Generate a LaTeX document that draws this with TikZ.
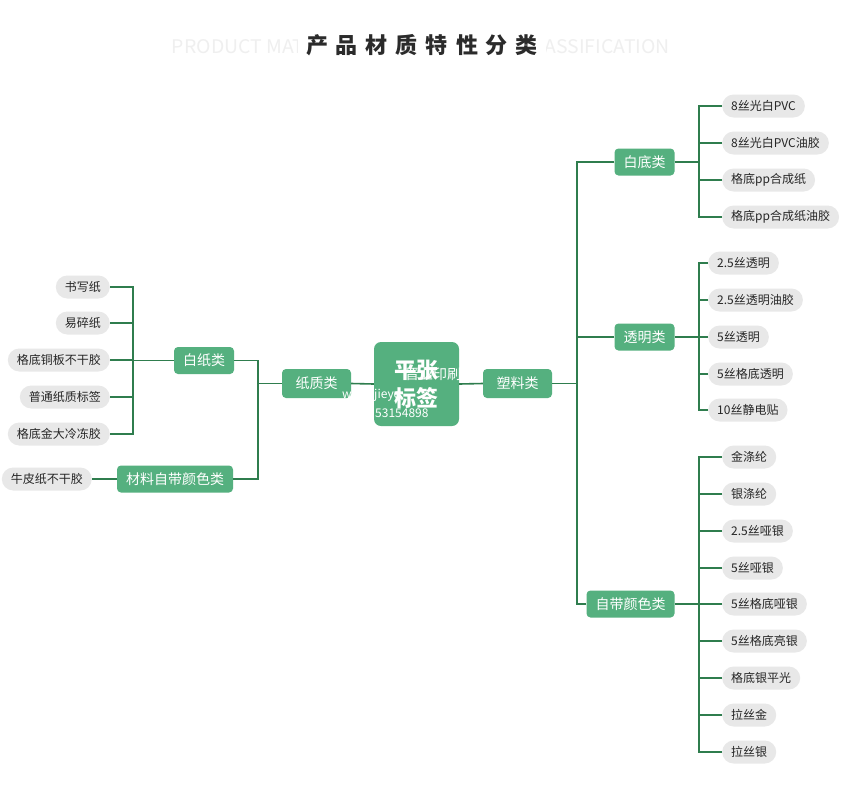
\documentclass[tikz,border=0pt]{standalone}
\usepackage{fontspec}
\setmainfont{Noto Sans CJK SC}
\usepackage{graphicx}
\definecolor{nodegreen}{HTML}{55B07F}
\definecolor{linegreen}{HTML}{2F7D4E}
\definecolor{pillgray}{HTML}{E8E8E8}
\definecolor{subgray}{HTML}{EFEFEF}
\definecolor{titlegray}{HTML}{2B2B2B}
\tikzset{
  catnode/.style={fill=nodegreen, text=white, rounded corners=4pt, minimum height=27pt,
    inner xsep=9pt, inner ysep=0pt, font=\fontsize{14}{14}\selectfont},
  bigcat/.style={catnode, minimum width=69pt, minimum height=29pt},
  leaf/.style={fill=pillgray, text=black!85, rounded corners=11.5pt, minimum height=23pt,
    inner xsep=9pt, inner ysep=0pt, font=\fontsize{12}{12}\selectfont},
  conn/.style={draw=linegreen, line width=1.6pt},
  wmark/.style={text=white, inner sep=0pt, font=\fontsize{12}{12}\selectfont}
}
\begin{document}
\begin{tikzpicture}[x=1pt,y=-1pt]
\fill[white] (0,0) rectangle (861,793);
\useasboundingbox (0,0) rectangle (861,793);
% title
\node[text=subgray, inner sep=0pt] (sub) at (421,47)
  {\resizebox{498pt}{14pt}{PRODUCT MATERIAL CHARACTERISTIC CLASSIFICATION}};
\node[fill=white, text=titlegray, inner xsep=8pt, inner ysep=4pt,
  font=\fontsize{22}{22}\selectfont\bfseries] (title) at (422,45)
  {产\hspace{8pt}品\hspace{8pt}材\hspace{8pt}质\hspace{8pt}特\hspace{8pt}性\hspace{8pt}分\hspace{8pt}类};
% centre
\node[fill=nodegreen, text=white, rounded corners=7pt, minimum width=85pt, minimum height=84pt,
  align=center, font=\fontsize{22}{28}\selectfont\bfseries] (root) at (416.5,384) {平张\\标签};
\node[bigcat] (paper) at (316.5,383.5) {纸质类};
\node[bigcat] (plastic) at (517.5,383.5) {塑料类};
% left categories
\node[catnode] (baizhi) at (204,360.5) {白纸类};
\node[catnode] (zidaiL) at (175,479) {材料自带颜色类};
% left leaves
\node[leaf, anchor=east] (l1) at (110,287) {书写纸};
\node[leaf, anchor=east] (l2) at (110,323) {易碎纸};
\node[leaf, anchor=east] (l3) at (110,360) {格底铜板不干胶};
\node[leaf, anchor=east] (l4) at (110,397) {普通纸质标签};
\node[leaf, anchor=east] (l5) at (110,434) {格底金大冷冻胶};
\node[leaf, anchor=east] (l6) at (92,479) {牛皮纸不干胶};
% right categories
\node[catnode] (baidi) at (644.5,162) {白底类};
\node[catnode] (touming) at (644.5,337) {透明类};
\node[catnode] (zidaiR) at (630.5,604) {自带颜色类};
% right leaves: white base
\node[leaf, anchor=west] (a1) at (722,106) {8丝光白PVC};
\node[leaf, anchor=west] (a2) at (722,143) {8丝光白PVC油胶};
\node[leaf, anchor=west] (a3) at (722,180) {格底pp合成纸};
\node[leaf, anchor=west] (a4) at (722,217) {格底pp合成纸油胶};
% transparent
\node[leaf, anchor=west] (b1) at (708,263) {2.5丝透明};
\node[leaf, anchor=west] (b2) at (708,300) {2.5丝透明油胶};
\node[leaf, anchor=west] (b3) at (708,337) {5丝透明};
\node[leaf, anchor=west] (b4) at (708,374) {5丝格底透明};
\node[leaf, anchor=west] (b5) at (708,410) {10丝静电贴};
% self colour
\node[leaf, anchor=west] (c1) at (722,457) {金涤纶};
\node[leaf, anchor=west] (c2) at (722,494) {银涤纶};
\node[leaf, anchor=west] (c3) at (722,531) {2.5丝哑银};
\node[leaf, anchor=west] (c4) at (722,568) {5丝哑银};
\node[leaf, anchor=west] (c5) at (722,604) {5丝格底哑银};
\node[leaf, anchor=west] (c6) at (722,641) {5丝格底亮银};
\node[leaf, anchor=west] (c7) at (722,678) {格底银平光};
\node[leaf, anchor=west] (c8) at (722,715) {拉丝金};
\node[leaf, anchor=west] (c9) at (722,752) {拉丝银};
% junctions
\coordinate (jL) at (258,383.5);
\coordinate (jLL) at (133,360.5);
\coordinate (jR) at (577,383.5);
\coordinate (jA) at (699,162);
\coordinate (jB) at (699,337);
\coordinate (jC) at (699,604);
% connectors
\draw[conn] (root.west) -- (paper.east);
\draw[conn] (root.east) -- (plastic.west);
\draw[conn] (paper.west) -- (jL);
\draw[conn] (baizhi.east) -| (jL);
\draw[conn] (zidaiL.east) -| (jL);
\draw[conn] (baizhi.west) -- (jLL);
\foreach \n in {l1,l2,l3,l4,l5} \draw[conn] (\n.east) -| (jLL);
\draw[conn] (l6.east) -- (zidaiL.west);
\draw[conn] (plastic.east) -- (jR);
\draw[conn] (baidi.west) -| (jR);
\draw[conn] (touming.west) -| (jR);
\draw[conn] (zidaiR.west) -| (jR);
\draw[conn] (baidi.east) -- (jA);
\foreach \n in {a1,a2,a3,a4} \draw[conn] (\n.west) -| (jA);
\draw[conn] (touming.east) -- (jB);
\foreach \n in {b1,b2,b3,b4,b5} \draw[conn] (\n.west) -| (jB);
\draw[conn] (zidaiR.east) -- (jC);
\foreach \n in {c1,c2,c3,c4,c5,c6,c7,c8,c9} \draw[conn] (\n.west) -| (jC);
% watermark
\node[wmark, anchor=west, font=\fontsize{14}{14}\selectfont] (wm1) at (405,374) {晋业印刷};
\node[wmark, anchor=west] (wm2) at (342,395) {www.jieye};
\node[wmark, anchor=west] (wm3) at (375,413) {53154898};
\end{tikzpicture}
\end{document}
